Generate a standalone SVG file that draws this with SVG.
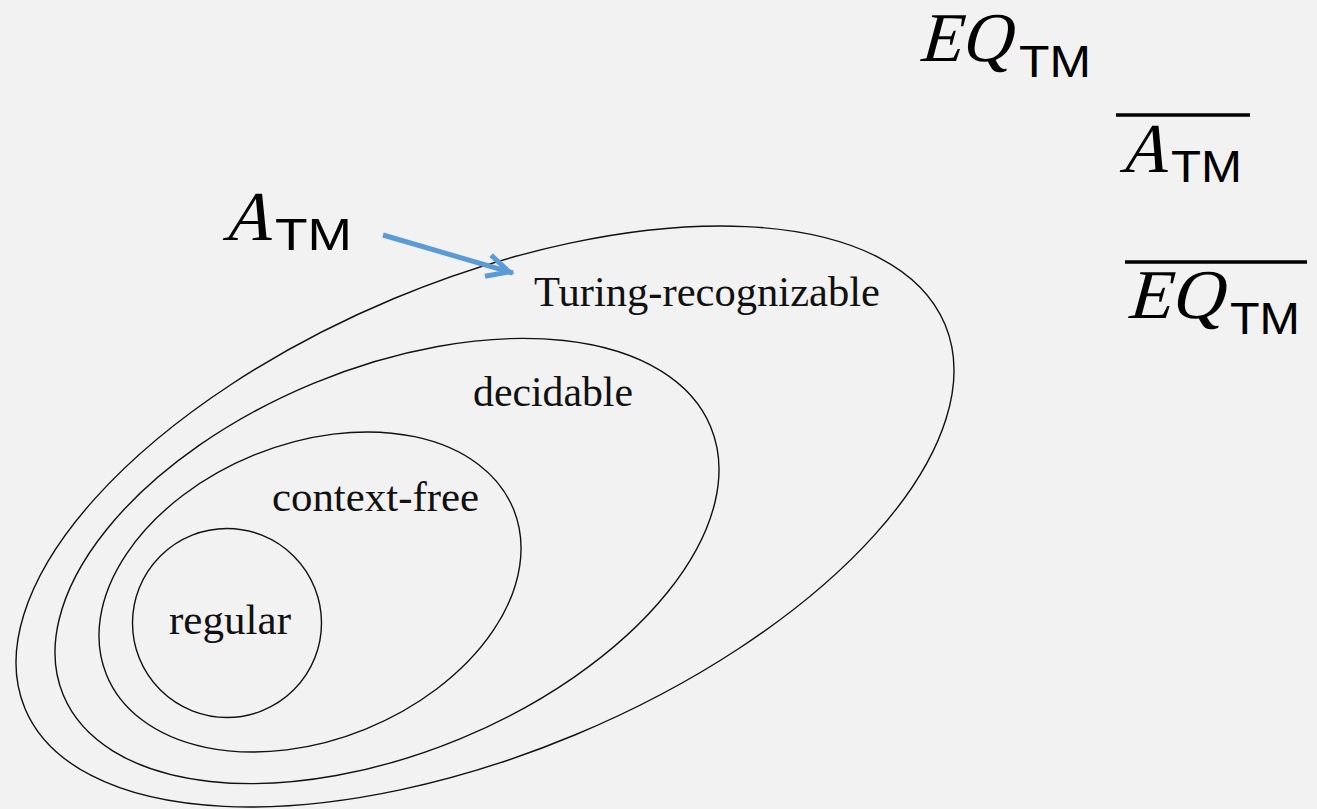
<svg xmlns="http://www.w3.org/2000/svg" width="1317" height="809" viewBox="0 0 1317 809">
  <style>
    .set { fill: none; stroke: #111; stroke-width: 1.4; }
    .lbl { font-family: "Liberation Serif", "Times New Roman", serif; font-size: 42px; fill: #111; }
    .mi { font-family: "Liberation Serif", "Times New Roman", serif; font-size: 70px; fill: #000; }
    .sub { font-family: "Liberation Sans", Arial, sans-serif; font-size: 44px; fill: #000; }
    .bar { stroke: #000; stroke-width: 3.5; }
    .conn { fill: none; stroke: #5b9bd5; stroke-width: 5; }
  </style>
  <defs>
    <marker id="chev" viewBox="-40 -20 50 40" refX="0" refY="0" markerWidth="50" markerHeight="40" markerUnits="userSpaceOnUse" orient="auto" overflow="visible">
      <path d="M-26,-11 L-4,0 L-26,11" fill="none" stroke="#5b9bd5" stroke-width="5" stroke-linejoin="miter"/>
    </marker>
  </defs>
  <rect x="0" y="0" width="1317" height="809" fill="#f2f2f2"/>

  <g id="turing-recognizable">
    <ellipse class="set" cx="485" cy="516.5" rx="498.5" ry="236.2" transform="rotate(-22.65 485 516.5)"/>
    <text class="lbl" x="534" y="306" textLength="346" lengthAdjust="spacingAndGlyphs">Turing-recognizable</text>
  </g>
  <g id="decidable">
    <ellipse class="set" cx="387" cy="561" rx="350.4" ry="192.3" transform="rotate(-22.5 387 561)"/>
    <text class="lbl" x="473" y="406" textLength="160" lengthAdjust="spacingAndGlyphs">decidable</text>
  </g>
  <g id="context-free">
    <ellipse class="set" cx="310" cy="592" rx="219.7" ry="147.9" transform="rotate(-22.1 310 592)"/>
    <text class="lbl" x="272" y="511" textLength="207" lengthAdjust="spacingAndGlyphs">context-free</text>
  </g>
  <g id="regular">
    <circle class="set" cx="227" cy="623" r="94.5"/>
    <text class="lbl" x="169" y="634" textLength="122" lengthAdjust="spacingAndGlyphs">regular</text>
  </g>

  <g id="a-tm">
    <text class="mi" transform="translate(222,240) skewX(-15)" x="0" y="0" textLength="50" lengthAdjust="spacingAndGlyphs">A</text>
    <text class="sub" x="275" y="250" textLength="77" lengthAdjust="spacingAndGlyphs">TM</text>
  </g>
  <g id="eq-tm">
    <text class="mi" transform="translate(918,61) skewX(-15)" x="0" y="0" textLength="92" lengthAdjust="spacingAndGlyphs">EQ</text>
    <text class="sub" x="1019" y="77" textLength="72" lengthAdjust="spacingAndGlyphs">TM</text>
  </g>
  <g id="a-tm-complement">
    <line class="bar" x1="1116" y1="115" x2="1250" y2="115"/>
    <text class="mi" transform="translate(1119,172) skewX(-15)" x="0" y="0" textLength="49" lengthAdjust="spacingAndGlyphs">A</text>
    <text class="sub" x="1171" y="182" textLength="71" lengthAdjust="spacingAndGlyphs">TM</text>
  </g>
  <g id="eq-tm-complement">
    <line class="bar" x1="1125" y1="262" x2="1307" y2="262"/>
    <text class="mi" transform="translate(1126,318) skewX(-15)" x="0" y="0" textLength="96" lengthAdjust="spacingAndGlyphs">EQ</text>
    <text class="sub" x="1230" y="334" textLength="70" lengthAdjust="spacingAndGlyphs">TM</text>
  </g>

  <g id="connectors">
    <line class="conn" x1="383" y1="235" x2="513" y2="273" marker-end="url(#chev)"/>
  </g>
</svg>
